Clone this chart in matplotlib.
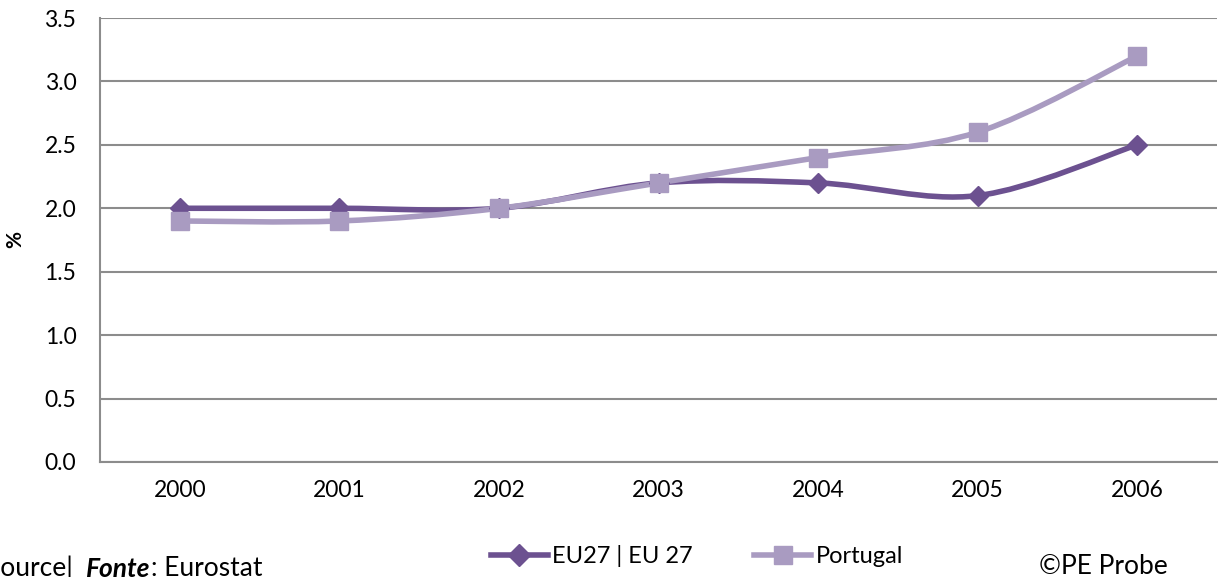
import numpy as np
import matplotlib.pyplot as plt
from matplotlib.path import Path
from matplotlib.patches import PathPatch
from matplotlib.lines import Line2D

years = ['2000', '2001', '2002', '2003', '2004', '2005', '2006']
eu27 = [2.0, 2.0, 2.0, 2.2, 2.2, 2.1, 2.5]
portugal = [1.9, 1.9, 2.0, 2.2, 2.4, 2.6, 3.2]

DARK = '#6c5190'
LIGHT = '#a99bc1'
GRID = '#8c8c8c'

plt.rcParams['font.family'] = ['Lato', 'DejaVu Sans']


def smooth_path(ys):
    # bezier like excel's "smoothed line"
    xs = np.arange(len(ys), dtype=float)
    pts = np.column_stack([xs, np.asarray(ys, dtype=float)])
    verts = [pts[0]]
    codes = [Path.MOVETO]
    n = len(pts)
    for i in range(n - 1):
        p0 = pts[max(i - 1, 0)]
        p1 = pts[i]
        p2 = pts[i + 1]
        p3 = pts[min(i + 2, n - 1)]
        c1 = p1 + (p2 - p0) / 6.0
        c2 = p2 - (p3 - p1) / 6.0
        verts += [c1, c2, p2]
        codes += [Path.CURVE4] * 3
    return Path(verts, codes)


fig = plt.figure(figsize=(12.22, 5.77), dpi=100)
ax = fig.add_axes([100 / 1222, 1 - 462 / 577, 1117 / 1222, 444 / 577])

idx = np.arange(len(years))
for vals, col, mk, ms in [(eu27, DARK, 'D', 10), (portugal, LIGHT, 's', 13)]:
    ax.add_patch(PathPatch(smooth_path(vals), facecolor='none', edgecolor=col,
                           lw=4, zorder=3, capstyle='round'))
    ax.plot(idx, vals, ls='none', marker=mk, ms=ms, color=col, zorder=4)

ax.set_xlim(-0.5, len(years) - 0.5)
ax.set_ylim(0, 3.5)
ax.set_yticks(np.arange(0, 3.51, 0.5))
ax.set_yticklabels([f'{v:.1f}' for v in np.arange(0, 3.51, 0.5)])
ax.set_xticks(idx)
ax.set_xticklabels(years)
ax.tick_params(axis='both', length=0, labelsize=16.5, colors='black')
ax.tick_params(axis='x', pad=13)
ax.tick_params(axis='y', pad=17)
ax.yaxis.grid(True, color=GRID, lw=1.5)
ax.set_axisbelow(True)
for s in ['top', 'right']:
    ax.spines[s].set_visible(False)
for s in ['left', 'bottom']:
    ax.spines[s].set_color(GRID)
    ax.spines[s].set_linewidth(1.5)
ax.set_ylabel('%', fontsize=15, fontweight='bold', labelpad=14)

handles = [
    Line2D([], [], color=DARK, lw=4, marker='D', ms=11),
    Line2D([], [], color=LIGHT, lw=4, marker='s', ms=13),
]
fig.legend(handles, ['EU27 | EU 27', 'Portugal'], loc='center',
           bbox_to_anchor=(697 / 1222, 1 - 556 / 577), ncol=2, frameon=False,
           fontsize=17, handlelength=2.4, handletextpad=0.2, columnspacing=2.6)

# source line, cut at the left edge like the original
t1 = fig.text(-14 / 1222, -4 / 577, 'Source|  ', fontsize=19,
              va='bottom', ha='left')
t2 = ax.annotate('Fonte', xy=(1, 0), xycoords=t1, va='bottom', ha='left',
                 fontsize=19, fontweight='bold', fontstyle='italic',
                 annotation_clip=False)
ax.annotate(': Eurostat', xy=(1, 0), xycoords=t2, va='bottom', ha='left',
            fontsize=19, annotation_clip=False)
fig.text(1103 / 1222, 1 - 566 / 577, '©PE Probe', fontsize=19,
         va='center', ha='center')

fig.savefig('out.png', dpi=100)
